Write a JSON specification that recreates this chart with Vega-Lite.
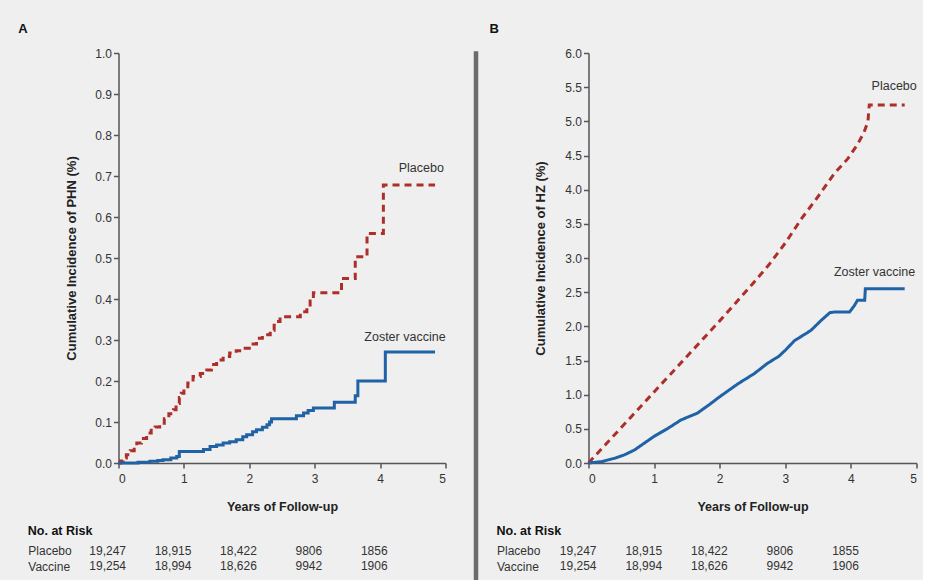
{
  "$schema": "https://vega.github.io/schema/vega-lite/v6.json",
  "background": "#efefef",
  "padding": {"left": 17.5, "top": 23, "right": 5, "bottom": 0},
  "config": {
    "font": "Liberation Sans",
    "view": {"stroke": null},
    "axis": {
      "domainColor": "#555555", "domainWidth": 1.5,
      "tickColor": "#555555", "tickWidth": 1.5, "tickSize": 5,
      "labelFontSize": 12, "labelColor": "#333333", "labelPadding": 2, "labelOverlap": false,
      "titleColor": "#222222", "titleFontWeight": "bold", "grid": false
    },
    "title": {"anchor": "start", "fontSize": 13, "fontWeight": "bold", "color": "#111111"},
    "concat": {"spacing": 11}
  },
  "datasets": {
    "a_curves": [
      {"year": 0, "pct": 0, "group": "Placebo"},
      {"year": 0.03, "pct": 0.005, "group": "Placebo"},
      {"year": 0.07, "pct": 0.012, "group": "Placebo"},
      {"year": 0.12, "pct": 0.02, "group": "Placebo"},
      {"year": 0.18, "pct": 0.03, "group": "Placebo"},
      {"year": 0.24, "pct": 0.04, "group": "Placebo"},
      {"year": 0.28, "pct": 0.049, "group": "Placebo"},
      {"year": 0.35, "pct": 0.06, "group": "Placebo"},
      {"year": 0.43, "pct": 0.073, "group": "Placebo"},
      {"year": 0.5, "pct": 0.08, "group": "Placebo"},
      {"year": 0.56, "pct": 0.088, "group": "Placebo"},
      {"year": 0.63, "pct": 0.097, "group": "Placebo"},
      {"year": 0.7, "pct": 0.108, "group": "Placebo"},
      {"year": 0.77, "pct": 0.12, "group": "Placebo"},
      {"year": 0.84, "pct": 0.13, "group": "Placebo"},
      {"year": 0.88, "pct": 0.145, "group": "Placebo"},
      {"year": 0.93, "pct": 0.16, "group": "Placebo"},
      {"year": 0.96, "pct": 0.17, "group": "Placebo"},
      {"year": 1.0, "pct": 0.182, "group": "Placebo"},
      {"year": 1.06, "pct": 0.195, "group": "Placebo"},
      {"year": 1.14, "pct": 0.211, "group": "Placebo"},
      {"year": 1.25, "pct": 0.218, "group": "Placebo"},
      {"year": 1.35, "pct": 0.227, "group": "Placebo"},
      {"year": 1.42, "pct": 0.24, "group": "Placebo"},
      {"year": 1.5, "pct": 0.251, "group": "Placebo"},
      {"year": 1.6, "pct": 0.26, "group": "Placebo"},
      {"year": 1.7, "pct": 0.268, "group": "Placebo"},
      {"year": 1.8, "pct": 0.274, "group": "Placebo"},
      {"year": 1.91, "pct": 0.28, "group": "Placebo"},
      {"year": 2.0, "pct": 0.29, "group": "Placebo"},
      {"year": 2.11, "pct": 0.304, "group": "Placebo"},
      {"year": 2.2, "pct": 0.313, "group": "Placebo"},
      {"year": 2.32, "pct": 0.324, "group": "Placebo"},
      {"year": 2.38, "pct": 0.336, "group": "Placebo"},
      {"year": 2.42, "pct": 0.345, "group": "Placebo"},
      {"year": 2.47, "pct": 0.357, "group": "Placebo"},
      {"year": 2.78, "pct": 0.369, "group": "Placebo"},
      {"year": 2.88, "pct": 0.381, "group": "Placebo"},
      {"year": 2.93, "pct": 0.395, "group": "Placebo"},
      {"year": 2.98, "pct": 0.415, "group": "Placebo"},
      {"year": 3.41, "pct": 0.45, "group": "Placebo"},
      {"year": 3.62, "pct": 0.503, "group": "Placebo"},
      {"year": 3.8, "pct": 0.56, "group": "Placebo"},
      {"year": 4.05, "pct": 0.678, "group": "Placebo"},
      {"year": 4.84, "pct": 0.678, "group": "Placebo"},
      {"year": 0, "pct": 0, "group": "Zoster vaccine"},
      {"year": 0.3, "pct": 0.002, "group": "Zoster vaccine"},
      {"year": 0.48, "pct": 0.004, "group": "Zoster vaccine"},
      {"year": 0.6, "pct": 0.006, "group": "Zoster vaccine"},
      {"year": 0.68, "pct": 0.008, "group": "Zoster vaccine"},
      {"year": 0.8, "pct": 0.012, "group": "Zoster vaccine"},
      {"year": 0.89, "pct": 0.016, "group": "Zoster vaccine"},
      {"year": 0.93, "pct": 0.028, "group": "Zoster vaccine"},
      {"year": 1.24, "pct": 0.028, "group": "Zoster vaccine"},
      {"year": 1.3, "pct": 0.033, "group": "Zoster vaccine"},
      {"year": 1.4, "pct": 0.04, "group": "Zoster vaccine"},
      {"year": 1.5, "pct": 0.044, "group": "Zoster vaccine"},
      {"year": 1.6, "pct": 0.049, "group": "Zoster vaccine"},
      {"year": 1.7, "pct": 0.052, "group": "Zoster vaccine"},
      {"year": 1.8, "pct": 0.057, "group": "Zoster vaccine"},
      {"year": 1.9, "pct": 0.064, "group": "Zoster vaccine"},
      {"year": 1.96, "pct": 0.069, "group": "Zoster vaccine"},
      {"year": 2.05, "pct": 0.076, "group": "Zoster vaccine"},
      {"year": 2.11, "pct": 0.081, "group": "Zoster vaccine"},
      {"year": 2.2, "pct": 0.087, "group": "Zoster vaccine"},
      {"year": 2.27, "pct": 0.093, "group": "Zoster vaccine"},
      {"year": 2.31, "pct": 0.1, "group": "Zoster vaccine"},
      {"year": 2.34, "pct": 0.108, "group": "Zoster vaccine"},
      {"year": 2.72, "pct": 0.115, "group": "Zoster vaccine"},
      {"year": 2.83, "pct": 0.122, "group": "Zoster vaccine"},
      {"year": 2.9, "pct": 0.128, "group": "Zoster vaccine"},
      {"year": 2.98, "pct": 0.134, "group": "Zoster vaccine"},
      {"year": 3.3, "pct": 0.148, "group": "Zoster vaccine"},
      {"year": 3.62, "pct": 0.164, "group": "Zoster vaccine"},
      {"year": 3.66, "pct": 0.2, "group": "Zoster vaccine"},
      {"year": 4.08, "pct": 0.271, "group": "Zoster vaccine"},
      {"year": 4.84, "pct": 0.271, "group": "Zoster vaccine"}
    ],
    "a_labels": [
      {"year": 4.63, "pct": 0.72, "label": "Placebo"},
      {"year": 4.38, "pct": 0.307, "label": "Zoster vaccine"}
    ],
    "a_risk": [
      {"year": 0, "group": "Placebo", "n": "19,247"},
      {"year": 1, "group": "Placebo", "n": "18,915"},
      {"year": 2, "group": "Placebo", "n": "18,422"},
      {"year": 3, "group": "Placebo", "n": "9806"},
      {"year": 4, "group": "Placebo", "n": "1856"},
      {"year": 0, "group": "Vaccine", "n": "19,254"},
      {"year": 1, "group": "Vaccine", "n": "18,994"},
      {"year": 2, "group": "Vaccine", "n": "18,626"},
      {"year": 3, "group": "Vaccine", "n": "9942"},
      {"year": 4, "group": "Vaccine", "n": "1906"}
    ],
    "b_curves": [
      {"year": 0, "pct": 0, "group": "Placebo"},
      {"year": 0.25, "pct": 0.26, "group": "Placebo"},
      {"year": 0.5, "pct": 0.52, "group": "Placebo"},
      {"year": 0.75, "pct": 0.78, "group": "Placebo"},
      {"year": 1.0, "pct": 1.04, "group": "Placebo"},
      {"year": 1.25, "pct": 1.3, "group": "Placebo"},
      {"year": 1.5, "pct": 1.56, "group": "Placebo"},
      {"year": 1.75, "pct": 1.82, "group": "Placebo"},
      {"year": 2.0, "pct": 2.08, "group": "Placebo"},
      {"year": 2.25, "pct": 2.35, "group": "Placebo"},
      {"year": 2.5, "pct": 2.62, "group": "Placebo"},
      {"year": 2.75, "pct": 2.9, "group": "Placebo"},
      {"year": 3.0, "pct": 3.22, "group": "Placebo"},
      {"year": 3.25, "pct": 3.58, "group": "Placebo"},
      {"year": 3.5, "pct": 3.9, "group": "Placebo"},
      {"year": 3.75, "pct": 4.24, "group": "Placebo"},
      {"year": 3.95, "pct": 4.45, "group": "Placebo"},
      {"year": 4.1, "pct": 4.66, "group": "Placebo"},
      {"year": 4.2, "pct": 4.84, "group": "Placebo"},
      {"year": 4.26, "pct": 5.0, "group": "Placebo"},
      {"year": 4.28, "pct": 5.24, "group": "Placebo"},
      {"year": 4.82, "pct": 5.24, "group": "Placebo"},
      {"year": 0, "pct": 0, "group": "Zoster vaccine"},
      {"year": 0.2, "pct": 0.02, "group": "Zoster vaccine"},
      {"year": 0.4, "pct": 0.07, "group": "Zoster vaccine"},
      {"year": 0.55, "pct": 0.12, "group": "Zoster vaccine"},
      {"year": 0.7, "pct": 0.19, "group": "Zoster vaccine"},
      {"year": 0.85, "pct": 0.29, "group": "Zoster vaccine"},
      {"year": 1.0, "pct": 0.39, "group": "Zoster vaccine"},
      {"year": 1.2, "pct": 0.5, "group": "Zoster vaccine"},
      {"year": 1.41, "pct": 0.63, "group": "Zoster vaccine"},
      {"year": 1.66, "pct": 0.73, "group": "Zoster vaccine"},
      {"year": 1.85, "pct": 0.86, "group": "Zoster vaccine"},
      {"year": 2.0, "pct": 0.97, "group": "Zoster vaccine"},
      {"year": 2.28, "pct": 1.16, "group": "Zoster vaccine"},
      {"year": 2.53, "pct": 1.31, "group": "Zoster vaccine"},
      {"year": 2.73, "pct": 1.46, "group": "Zoster vaccine"},
      {"year": 2.9, "pct": 1.56, "group": "Zoster vaccine"},
      {"year": 3.0, "pct": 1.65, "group": "Zoster vaccine"},
      {"year": 3.14, "pct": 1.79, "group": "Zoster vaccine"},
      {"year": 3.39, "pct": 1.94, "group": "Zoster vaccine"},
      {"year": 3.55, "pct": 2.09, "group": "Zoster vaccine"},
      {"year": 3.68, "pct": 2.2, "group": "Zoster vaccine"},
      {"year": 3.75, "pct": 2.21, "group": "Zoster vaccine"},
      {"year": 3.98, "pct": 2.21, "group": "Zoster vaccine"},
      {"year": 4.05, "pct": 2.3, "group": "Zoster vaccine"},
      {"year": 4.1, "pct": 2.38, "group": "Zoster vaccine"},
      {"year": 4.21, "pct": 2.38, "group": "Zoster vaccine"},
      {"year": 4.22, "pct": 2.55, "group": "Zoster vaccine"},
      {"year": 4.82, "pct": 2.55, "group": "Zoster vaccine"}
    ],
    "b_labels": [
      {"year": 4.66, "pct": 5.51, "label": "Placebo"},
      {"year": 4.36, "pct": 2.79, "label": "Zoster vaccine"}
    ],
    "b_risk": [
      {"year": 0, "group": "Placebo", "n": "19,247"},
      {"year": 1, "group": "Placebo", "n": "18,915"},
      {"year": 2, "group": "Placebo", "n": "18,422"},
      {"year": 3, "group": "Placebo", "n": "9806"},
      {"year": 4, "group": "Placebo", "n": "1855"},
      {"year": 0, "group": "Vaccine", "n": "19,254"},
      {"year": 1, "group": "Vaccine", "n": "18,994"},
      {"year": 2, "group": "Vaccine", "n": "18,626"},
      {"year": 3, "group": "Vaccine", "n": "9942"},
      {"year": 4, "group": "Vaccine", "n": "1906"}
    ]
  },
  "spacing": 11,
  "hconcat": [
    {
      "title": {"text": "A", "dx": -9.5, "offset": 11},
      "vconcat": [
        {
          "width": 327, "height": 410,
          "encoding": {
            "x": {"field": "year", "type": "quantitative", "scale": {"domain": [0, 5], "nice": false},
                  "axis": {"values": [0, 1, 2, 3, 4, 5], "format": "d", "title": "Years of Follow-up", "titleFontSize": 12.5, "labelPadding": 5.5, "titlePadding": 15.5}},
            "y": {"field": "pct", "type": "quantitative", "scale": {"domain": [0, 1], "nice": false},
                  "axis": {"values": [0, 0.1, 0.2, 0.3, 0.4, 0.5, 0.6, 0.7, 0.8, 0.9, 1.0], "format": ".1f", "title": "Cumulative Incidence of PHN (%)", "titleFontSize": 13, "titlePadding": 16}}
          },
          "layer": [
            {
              "data": {"name": "a_curves"},
              "mark": {"type": "line", "interpolate": "step-after", "strokeWidth": 3},
              "encoding": {
                "color": {"field": "group", "type": "nominal", "scale": {"domain": ["Placebo", "Zoster vaccine"], "range": ["#ad2f2a", "#1f62a5"]}, "legend": null},
                "strokeDash": {"field": "group", "type": "nominal", "scale": {"domain": ["Placebo", "Zoster vaccine"], "range": [[7, 5], [1, 0]]}, "legend": null}
              }
            },
            {
              "data": {"name": "a_labels"},
              "mark": {"type": "text", "fontSize": 12.5, "color": "#333333", "align": "center"},
              "encoding": {
                "text": {"field": "label", "type": "nominal"}
              }
            }
          ]
        },
        {
          "width": 327, "height": 31,
          "title": {"text": "No. at Risk", "frame": "bounds", "fontSize": 12.5, "offset": 6},
          "data": {"name": "a_risk"},
          "mark": {"type": "text", "fontSize": 12, "color": "#333333", "align": "right", "dx": 7.5},
          "encoding": {
            "x": {"field": "year", "type": "quantitative", "scale": {"domain": [0, 5], "nice": false}, "axis": null},
            "y": {"field": "group", "type": "nominal", "sort": ["Placebo", "Vaccine"],
                  "axis": {"title": null, "domain": false, "ticks": false, "tickSize": 0, "labelAlign": "left", "labelPadding": 90.7, "labelFontSize": 12}},
            "text": {"field": "n", "type": "nominal"}
          }
        }
      ]
    },
    {
      "width": 1, "height": 527,
      "data": {"values": [{"pad": "00000"}]},
      "mark": {"type": "text", "fontSize": 5.75, "opacity": 0, "align": "right"},
      "encoding": {"text": {"field": "pad", "type": "nominal"}},
      "view": {"stroke": "#6b6b6b", "strokeWidth": 3.5}
    },
    {
      "title": {"text": "B", "dx": -7, "offset": 11},
      "vconcat": [
        {
          "width": 328, "height": 410,
          "encoding": {
            "x": {"field": "year", "type": "quantitative", "scale": {"domain": [0, 5], "nice": false},
                  "axis": {"values": [0, 1, 2, 3, 4, 5], "format": "d", "title": "Years of Follow-up", "titleFontSize": 12.5, "labelPadding": 5.5, "titlePadding": 15.5}},
            "y": {"field": "pct", "type": "quantitative", "scale": {"domain": [0, 6], "nice": false},
                  "axis": {"values": [0, 0.5, 1, 1.5, 2, 2.5, 3, 3.5, 4, 4.5, 5, 5.5, 6], "format": ".1f", "title": "Cumulative Incidence of HZ (%)", "titleFontSize": 13, "titlePadding": 17}}
          },
          "layer": [
            {
              "data": {"name": "b_curves"},
              "mark": {"type": "line", "strokeWidth": 3},
              "encoding": {
                "color": {"field": "group", "type": "nominal", "scale": {"domain": ["Placebo", "Zoster vaccine"], "range": ["#ad2f2a", "#1f62a5"]}, "legend": null},
                "strokeDash": {"field": "group", "type": "nominal", "scale": {"domain": ["Placebo", "Zoster vaccine"], "range": [[5, 4], [1, 0]]}, "legend": null}
              }
            },
            {
              "data": {"name": "b_labels"},
              "mark": {"type": "text", "fontSize": 12.5, "color": "#333333", "align": "center"},
              "encoding": {
                "text": {"field": "label", "type": "nominal"}
              }
            }
          ]
        },
        {
          "width": 328, "height": 31,
          "title": {"text": "No. at Risk", "frame": "bounds", "fontSize": 12.5, "offset": 6},
          "data": {"name": "b_risk"},
          "mark": {"type": "text", "fontSize": 12, "color": "#333333", "align": "right", "dx": 8},
          "encoding": {
            "x": {"field": "year", "type": "quantitative", "scale": {"domain": [0, 5], "nice": false}, "axis": null},
            "y": {"field": "group", "type": "nominal", "sort": ["Placebo", "Vaccine"],
                  "axis": {"title": null, "domain": false, "ticks": false, "tickSize": 0, "labelAlign": "left", "labelPadding": 92, "labelFontSize": 12}},
            "text": {"field": "n", "type": "nominal"}
          }
        }
      ]
    }
  ]
}
